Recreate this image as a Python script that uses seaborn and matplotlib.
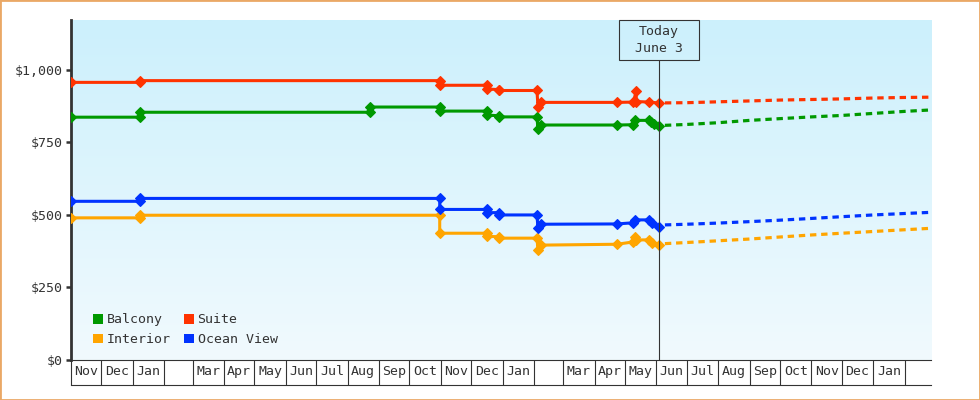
import matplotlib
matplotlib.use("Agg")
import matplotlib.pyplot as plt
import matplotlib.dates as mdates
from matplotlib.patches import Rectangle, Patch
from matplotlib import transforms
from matplotlib.ticker import FixedLocator, FixedFormatter, NullFormatter
import numpy as np
import pandas as pd
import seaborn as sns

# ---------------- data ----------------
COLORS = {"Balcony": "#009900", "Interior": "#ffa500",
          "Suite": "#ff3300", "Ocean View": "#0033ff"}
LEGEND_ORDER = ["Balcony", "Interior", "Suite", "Ocean View"]

suite_dates = ["2022-11-01", "2023-01-08", "2023-01-08", "2023-10-31", "2023-10-31",
               "2023-12-17", "2023-12-17", "2023-12-29", "2023-12-29", "2024-02-04",
               "2024-02-05", "2024-02-08", "2024-04-23", "2024-05-09", "2024-05-12",
               "2024-05-12", "2024-05-25", "2024-06-03"]
suite_prices = [957, 957, 963, 963, 947, 947, 934, 932, 929, 929,
                873, 888, 888, 889, 926, 891, 889, 886]

balcony_dates = ["2022-11-01", "2023-01-08", "2023-01-08", "2023-08-23", "2023-08-23",
                 "2023-10-31", "2023-10-31", "2023-12-17", "2023-12-17", "2023-12-29",
                 "2023-12-29", "2024-02-04", "2024-02-05", "2024-02-08", "2024-04-23",
                 "2024-05-09", "2024-05-11", "2024-05-25", "2024-05-27", "2024-05-30",
                 "2024-06-03"]
balcony_prices = [837, 837, 854, 854, 872, 872, 858, 858, 844, 842,
                  838, 838, 795, 810, 810, 811, 826, 826, 820, 812, 806]

ocean_dates = ["2022-11-01", "2023-01-08", "2023-01-08", "2023-10-31", "2023-10-31",
               "2023-12-17", "2023-12-17", "2023-12-29", "2023-12-29", "2024-02-04",
               "2024-02-05", "2024-02-08", "2024-04-23", "2024-05-09", "2024-05-11",
               "2024-05-25", "2024-05-28", "2024-06-03"]
ocean_prices = [547, 547, 557, 557, 519, 519, 508, 508, 500, 500,
                454, 468, 469, 473, 483, 483, 473, 460]

interior_dates = ["2022-11-01", "2023-01-08", "2023-01-08", "2023-10-31", "2023-10-31",
                  "2023-12-17", "2023-12-17", "2023-12-29", "2023-12-29", "2024-02-04",
                  "2024-02-05", "2024-02-08", "2024-04-23", "2024-05-09", "2024-05-11",
                  "2024-05-12", "2024-05-25", "2024-05-28", "2024-06-03"]
interior_prices = [490, 490, 499, 499, 437, 437, 426, 425, 420, 420,
                   380, 396, 399, 407, 425, 414, 414, 404, 396]

forecast_dates = ["2024-06-03", "2024-07-01", "2024-08-01", "2024-09-01", "2024-10-01",
                  "2024-11-01", "2024-12-01", "2025-01-01", "2025-02-01", "2025-02-27"]
suite_forecast = [886, 887, 890, 893, 896, 898, 900, 903, 905, 906]
balcony_forecast = [808, 812, 818, 826, 832, 838, 843, 850, 857, 862]
ocean_forecast = [465, 468, 472, 477, 482, 488, 494, 500, 505, 509]
interior_forecast = [400, 405, 411, 417, 424, 431, 437, 443, 449, 454]

TODAY = "2024-06-03"
TODAY_LABEL = "Today\nJune 3"
X_START, X_END = "2022-11-01", "2025-02-27"
Y_MAX = 1172
Y_TICKS = [0, 250, 500, 750, 1000]
Y_LABELS = ["$0", "$250", "$500", "$750", "$1,000"]
MONTH_LABELS = ["Nov", "Dec", "Jan", "", "Mar", "Apr", "May", "Jun", "Jul", "Aug",
                "Sep", "Oct", "Nov", "Dec", "Jan", "", "Mar", "Apr", "May", "Jun",
                "Jul", "Aug", "Sep", "Oct", "Nov", "Dec", "Jan", ""]

history = {"Suite": (suite_dates, suite_prices), "Balcony": (balcony_dates, balcony_prices),
           "Ocean View": (ocean_dates, ocean_prices), "Interior": (interior_dates, interior_prices)}
forecast = {"Suite": suite_forecast, "Balcony": balcony_forecast,
            "Ocean View": ocean_forecast, "Interior": interior_forecast}

# ---------------- style ----------------
TXT = "#333333"
FONT = "DejaVu Sans Mono"
FS = 9.5
plt.rcParams["font.family"] = [FONT, "DejaVu Sans"]

W, H = 980, 400
fig = plt.figure(figsize=(W / 100, H / 100), dpi=100)
fig.patch.set_facecolor("white")
L, R, T, B = 71, 931, 20, 360
ax = fig.add_axes([L / W, (H - B) / H, (R - L) / W, (B - T) / H])

# background gradient
top = np.array([204, 240, 252]) / 255
bot = np.array([241, 250, 254]) / 255
grad = np.linspace(0, 1, 256)[:, None, None]
img = top * (1 - grad) + bot * grad
ax.imshow(img, extent=[0, 1, 0, 1], transform=ax.transAxes, aspect="auto",
          zorder=0, interpolation="bilinear")

for cab in ["Interior", "Ocean View", "Balcony", "Suite"]:
    d, p = history[cab]
    c = COLORS[cab]
    sns.lineplot(x=pd.to_datetime(d), y=p, ax=ax, color=c, estimator=None, sort=False,
                 marker="D", markersize=5, markeredgewidth=0.8, markeredgecolor=c,
                 linewidth=2.2, legend=False, zorder=4)
    sns.lineplot(x=pd.to_datetime(forecast_dates), y=forecast[cab], ax=ax, color=c,
                 estimator=None, sort=False, linewidth=2.3, linestyle=(1.5, (2.0, 1.5)),
                 legend=False, zorder=3)

x0, x1 = mdates.date2num(pd.Timestamp(X_START)), mdates.date2num(pd.Timestamp(X_END))
ax.set_xlim(x0, x1)
ax.set_ylim(0, Y_MAX)

# spines
for s in ["top", "right"]:
    ax.spines[s].set_visible(False)
ax.spines["left"].set_linewidth(2.0)
ax.spines["left"].set_color(TXT)
ax.spines["bottom"].set_linewidth(0.8)
ax.spines["bottom"].set_color(TXT)

# y axis
ax.set_yticks(Y_TICKS)
ax.set_yticklabels(Y_LABELS)
ax.tick_params(axis="y", length=3.6, width=1.8, color=TXT, pad=2.4,
               labelsize=FS, labelcolor=TXT)
ax.set_ylabel("")
ax.set_xlabel("")

# x axis: month cells
starts = pd.date_range(X_START, X_END, freq="MS")
ends = list(starts[1:]) + [pd.Timestamp(X_END)]
mids = [mdates.date2num(s) + (mdates.date2num(e) - mdates.date2num(s)) / 2
        for s, e in zip(starts, ends)]
CELL = 25 / (B - T)
ax.xaxis.set_major_locator(FixedLocator(mdates.date2num(starts)))
ax.xaxis.set_major_formatter(NullFormatter())
ax.xaxis.set_minor_locator(FixedLocator(mids))
ax.xaxis.set_minor_formatter(FixedFormatter(MONTH_LABELS))
ax.tick_params(axis="x", which="major", length=18, width=0.8, color=TXT, direction="out")
ax.tick_params(axis="x", which="minor", length=0, pad=3.5, labelsize=FS, labelcolor=TXT)
ax.plot([x0, x1], [-CELL, -CELL], transform=ax.get_xaxis_transform(), color=TXT,
        lw=0.8, clip_on=False, zorder=5)
ax.grid(False)

# today marker
tnum = mdates.date2num(pd.Timestamp(TODAY))
blend = transforms.blended_transform_factory(ax.transData, ax.transAxes)
box_h = 40 / (B - T)
box_w = 80 / ((R - L) / (x1 - x0))
ax.vlines(tnum, 0, 1 - box_h, transform=blend, color=TXT, lw=0.8, zorder=6)
ax.add_patch(Rectangle((tnum - box_w / 2, 1 - box_h), box_w, box_h, transform=blend,
                       fill=False, edgecolor=TXT, lw=0.8, zorder=6, clip_on=False))
ax.text(tnum, 1 - box_h / 2, TODAY_LABEL, transform=blend, ha="center", va="center",
        fontsize=FS, color=TXT, linespacing=1.35, zorder=7)

# legend
handles = [Patch(facecolor=COLORS[c], edgecolor="none") for c in LEGEND_ORDER]
leg = ax.legend(handles, LEGEND_ORDER, ncol=2, loc="lower left",
                bbox_to_anchor=(22 / (R - L), 14 / (B - T)), frameon=False,
                handlelength=0.76, handleheight=0.76, handletextpad=0.3,
                columnspacing=0.95, labelspacing=0.5, borderpad=0, borderaxespad=0,
                prop={"family": FONT, "size": FS})
for t in leg.get_texts():
    t.set_color(TXT)

# figure border
fig.patches.append(Rectangle((0, 0), 1, 1, transform=fig.transFigure, fill=False,
                             edgecolor="#eaa866", lw=2, zorder=10))

fig.savefig("out.png", dpi=100)
